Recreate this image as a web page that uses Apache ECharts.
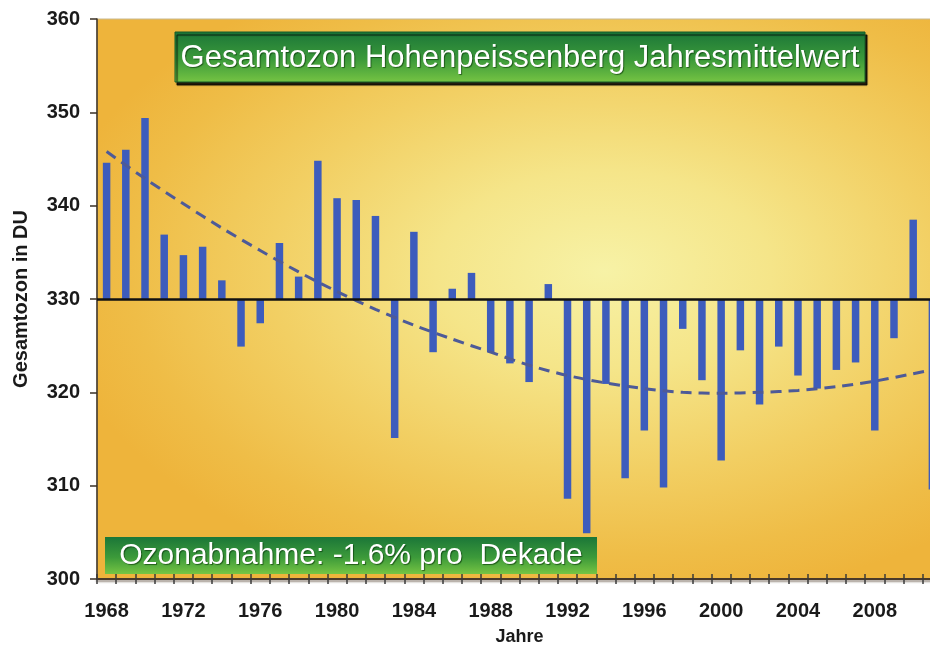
<!DOCTYPE html>
<html>
<head>
<meta charset="utf-8">
<script src="https://cdn.jsdelivr.net/npm/echarts/dist/echarts.min.js"></script>
<style>
  html, body { margin: 0; padding: 0; background: #ffffff; }
  #chart { width: 930px; height: 651px; }
</style>
</head>
<body>
<div id="chart"></div>
<script>
// Annual mean total ozone at Hohenpeissenberg (Dobson units)
const years = [
  '1968','1969','1970','1971','1972','1973','1974','1975','1976','1977',
  '1978','1979','1980','1981','1982','1983','1984','1985','1986','1987',
  '1988','1989','1990','1991','1992','1993','1994','1995','1996','1997',
  '1998','1999','2000','2001','2002','2003','2004','2005','2006','2007',
  '2008','2009','2010','2011'
];
const ozone = [
  344.6, 346.0, 349.4, 336.9, 334.7, 335.6, 332.0, 324.9, 327.4, 336.0,
  332.4, 344.8, 340.8, 340.6, 338.9, 315.1, 337.2, 324.3, 331.1, 332.8,
  324.3, 323.1, 321.1, 331.6, 308.6, 304.9, 320.9, 310.8, 315.9, 309.8,
  326.8, 321.3, 312.7, 324.5, 318.7, 324.9, 321.8, 320.4, 322.4, 323.2,
  315.9, 325.8, 338.5, 309.6
];
// Fitted long-term trend (dashed curve)
const trendYears = [
  '1968','1970','1972','1974','1976','1978','1980','1982','1984','1986',
  '1988','1990','1992','1994','1996','1998','2000','2002','2004','2006',
  '2008','2010','2011'
];
const trendValues = [
  345.8, 342.9, 340.2, 337.6, 335.2, 332.9, 330.8, 328.9, 327.2, 325.7,
  324.3, 322.9, 321.8, 321.0, 320.4, 320.0, 319.9, 320.0, 320.2, 320.6,
  321.2, 322.0, 322.4
];
const baseline = 330;
const yMin = 300, yMax = 360, yStep = 10;
const titleText = 'Gesamtozon Hohenpeissenberg Jahresmittelwert';
const noteText = 'Ozonabnahme: -1.6% pro  Dekade';
const xName = 'Jahre';
const yName = 'Gesamtozon in DU';

// layout of the plotting area
const G = { left: 97, top: 19, width: 845, height: 560 };
const FONT = '"Liberation Sans", Arial, sans-serif';
const BAR = '#3d5cbc';

const chart = echarts.init(document.getElementById('chart'), null, { renderer: 'canvas' });

const greenFill = new echarts.graphic.LinearGradient(0, 0, 0, 1, [
  { offset: 0, color: '#1b7638' },
  { offset: 0.55, color: '#3c9a3a' },
  { offset: 1, color: '#76c443' }
]);

// elliptical glow behind the plot
const squash = 0.6;
const glow = new echarts.graphic.RadialGradient(0.6, 0.45, 0.66, [
  { offset: 0, color: '#f7f2a6' },
  { offset: 0.3, color: '#f5e589' },
  { offset: 0.6, color: '#f2cf63' },
  { offset: 0.85, color: '#efbd47' },
  { offset: 1, color: '#eeb43b' }
]);

const option = {
  animation: false,
  backgroundColor: '#ffffff',
  grid: {
    left: G.left, top: G.top, width: G.width, height: G.height,
    show: true, borderColor: '#c9b98f', borderWidth: 1,
    backgroundColor: 'transparent',
    outerBoundsMode: 'none'
  },
  graphic: [
    {
      type: 'rect', z: -10, silent: true,
      x: G.left, y: G.top, scaleY: squash,
      shape: { x: 0, y: 0, width: G.width, height: G.height / squash },
      style: { fill: glow }
    },
    {
      type: 'group', z: 100, silent: true,
      children: [
        {
          type: 'rect',
          shape: { x: 175, y: 32, width: 690, height: 50 },
          style: {
            fill: greenFill, stroke: '#145a28', lineWidth: 1,
            shadowColor: 'rgba(0,0,0,0.85)', shadowOffsetX: 2, shadowOffsetY: 3, shadowBlur: 1
          }
        },
        {
          type: 'text',
          style: {
            x: 520, y: 58, text: titleText, fill: '#ffffff',
            font: '31px ' + FONT, align: 'center', verticalAlign: 'middle',
            textShadowColor: 'rgba(0,40,0,0.6)', textShadowOffsetX: 1, textShadowOffsetY: 1, textShadowBlur: 1
          }
        },
        {
          type: 'rect',
          shape: { x: 105, y: 537, width: 492, height: 37 },
          style: { fill: greenFill }
        },
        {
          type: 'text',
          style: {
            x: 351, y: 556, text: noteText, fill: '#ffffff',
            font: '30px ' + FONT, align: 'center', verticalAlign: 'middle',
            textShadowColor: 'rgba(0,40,0,0.6)', textShadowOffsetX: 1, textShadowOffsetY: 1, textShadowBlur: 1
          }
        }
      ]
    }
  ],
  xAxis: [
    {
      type: 'category', data: years, boundaryGap: true,
      name: xName, nameLocation: 'middle', nameGap: 49,
      nameTextStyle: { fontFamily: FONT, fontWeight: 'bold', fontSize: 18, color: '#1a1a1a' },
      axisLine: { lineStyle: { color: '#4a3a2a', width: 2, shadowColor: 'rgba(60,40,20,0.5)', shadowOffsetY: 2, shadowBlur: 2 } },
      axisTick: { show: true, interval: 0, inside: false, length: 5, lineStyle: { color: '#3a3a3a', width: 1.5 } },
      axisLabel: { interval: 3, margin: 22, fontFamily: FONT, fontWeight: 'bold', fontSize: 20, color: '#1a1a1a' },
      splitLine: { show: false }
    },
    {
      type: 'category', data: years, boundaryGap: true, position: 'bottom',
      axisLine: { show: false },
      axisTick: { show: true, interval: 0, inside: true, length: 5, lineStyle: { color: '#3a3a3a', width: 1.5 } },
      axisLabel: { show: false },
      splitLine: { show: false }
    }
  ],
  yAxis: {
    type: 'value', min: yMin, max: yMax, interval: yStep,
    name: yName, nameLocation: 'middle', nameGap: 66, nameRotate: 90,
    nameTextStyle: { fontFamily: FONT, fontWeight: 'bold', fontSize: 20, color: '#1a1a1a' },
    axisLine: { show: true, lineStyle: { color: '#3a3026', width: 1.5 } },
    axisTick: { show: true, inside: false, length: 7, lineStyle: { color: '#3a3026', width: 1.5 } },
    axisLabel: { margin: 17, fontFamily: FONT, fontWeight: 'bold', fontSize: 20, color: '#1a1a1a' },
    splitLine: { show: false }
  },
  series: [
    {
      name: 'Jahresmittel', type: 'custom', z: 3,
      data: ozone.map((v, i) => [i, v]),
      renderItem: function (params, api) {
        const idx = api.value(0);
        const top = api.coord([idx, api.value(1)]);
        const base = api.coord([idx, baseline]);
        const w = api.size([1, 0])[0] * 0.39;
        return {
          type: 'rect',
          shape: { x: top[0] - w / 2, y: Math.min(top[1], base[1]), width: w, height: Math.abs(base[1] - top[1]) },
          style: { fill: BAR }
        };
      }
    },
    {
      name: 'Trend', type: 'line', z: 4, smooth: 0.3, symbol: 'none',
      data: trendYears.map((y, i) => [years.indexOf(y), trendValues[i]]),
      lineStyle: { color: '#4d5a98', width: 3, type: [11, 7] },
      markLine: {
        silent: true, symbol: 'none', z: 5,
        label: { show: false },
        lineStyle: { color: '#111111', width: 2.5, type: 'solid' },
        data: [{ yAxis: baseline }]
      }
    }
  ]
};

chart.setOption(option);
</script>
</body>
</html>
